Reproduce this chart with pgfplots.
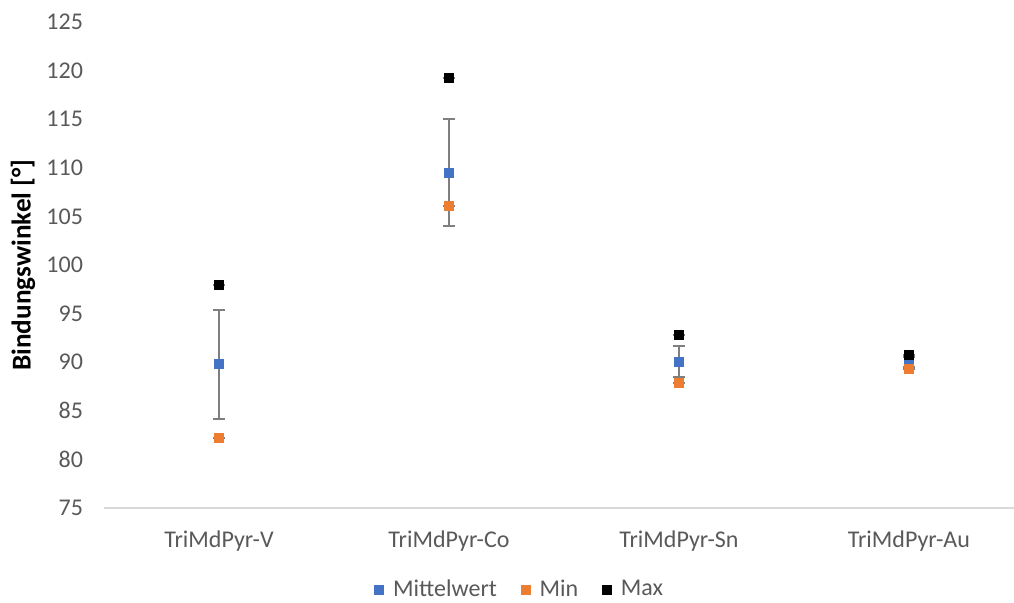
\documentclass[border=0pt]{standalone}
\usepackage{pgfplots}
\pgfplotsset{compat=1.18}
\usepackage{fontspec}
\setmainfont{Carlito}

\definecolor{xlblue}{HTML}{4472C4}
\definecolor{xlorange}{HTML}{ED7D31}
\definecolor{xltext}{HTML}{595959}
\definecolor{xlaxis}{HTML}{D9D9D9}
\definecolor{xlerr}{HTML}{7F7F7F}

\begin{document}
\begin{tikzpicture}
\useasboundingbox (0pt,0pt) rectangle (507pt,301.5pt);
\begin{axis}[
  at={(52pt,47.5pt)}, anchor=south west,
  scale only axis,
  width=455pt, height=243pt,
  xmin=-0.5, xmax=3.457,
  ymin=75, ymax=125,
  ytick={75,80,...,125},
  xtick={0,1,2,3},
  xticklabels={TriMdPyr-V,TriMdPyr-Co,TriMdPyr-Sn,TriMdPyr-Au},
  axis x line*=bottom,
  axis y line*=left,
  x axis line style={draw=xlaxis, line width=0.7pt, -},
  y axis line style={draw=none, -},
  major tick length=0pt,
  tick style={draw=none},
  font=\fontsize{12}{14}\selectfont,
  ticklabel style={text=xltext},
  /pgf/number format/assume math mode=true,
  yticklabel style={anchor=east, xshift=-7pt},
  xticklabel style={anchor=north, yshift=-8pt},
  ylabel={\fontsize{13.6}{16}\selectfont\bfseries Bindungswinkel [°]},
  ylabel style={at={(axis description cs:-0.089,0.5)}, anchor=center, text=black},
  clip=false,
  legend columns=-1,
  legend style={at={(axis description cs:0.458,-0.168)}, anchor=center,
    draw=none, fill=none, text=xltext, font=\fontsize{12}{14}\selectfont,
    /tikz/every even column/.append style={column sep=10pt}},
  legend image code/.code={%
    \path[#1] plot coordinates {(0pt,0pt)};
    \path[draw=none, fill=none] (0pt,0pt) -- (5pt,0pt);},
  error bars/y dir=both, error bars/y explicit,
  error bars/error mark options={rotate=90, mark size=3pt, line width=1pt, draw=xlerr},
  error bars/error bar style={line width=1pt, draw=xlerr},
]
% Mittelwert with standard deviation
\addplot+[only marks, mark=square*, mark size=2.3pt,
  mark options={draw=xlblue, fill=xlblue}]
  coordinates {
    (0,89.80) +- (0,5.62)
    (1,109.50) +- (0,5.47)
    (2,90.05) +- (0,1.60)
    (3,90.00) +- (0,0.50)
  };
\addlegendentry{Mittelwert}
% Min
\addplot+[only marks, mark=square*, mark size=2.3pt,
  mark options={draw=xlorange, fill=xlorange}]
  coordinates {
    (0,82.17) +- (0,0)
    (1,106.08) +- (0,0)
    (2,87.83) +- (0,0)
    (3,89.30) +- (0,0)
  };
\addlegendentry{Min}
% Max
\addplot+[only marks, mark=square*, mark size=2.3pt,
  mark options={draw=black, fill=black}]
  coordinates {
    (0,97.94) +- (0,0)
    (1,119.27) +- (0,0)
    (2,92.80) +- (0,0)
    (3,90.77) +- (0,0)
  };
\addlegendentry{Max}
\end{axis}
\end{tikzpicture}
\end{document}
